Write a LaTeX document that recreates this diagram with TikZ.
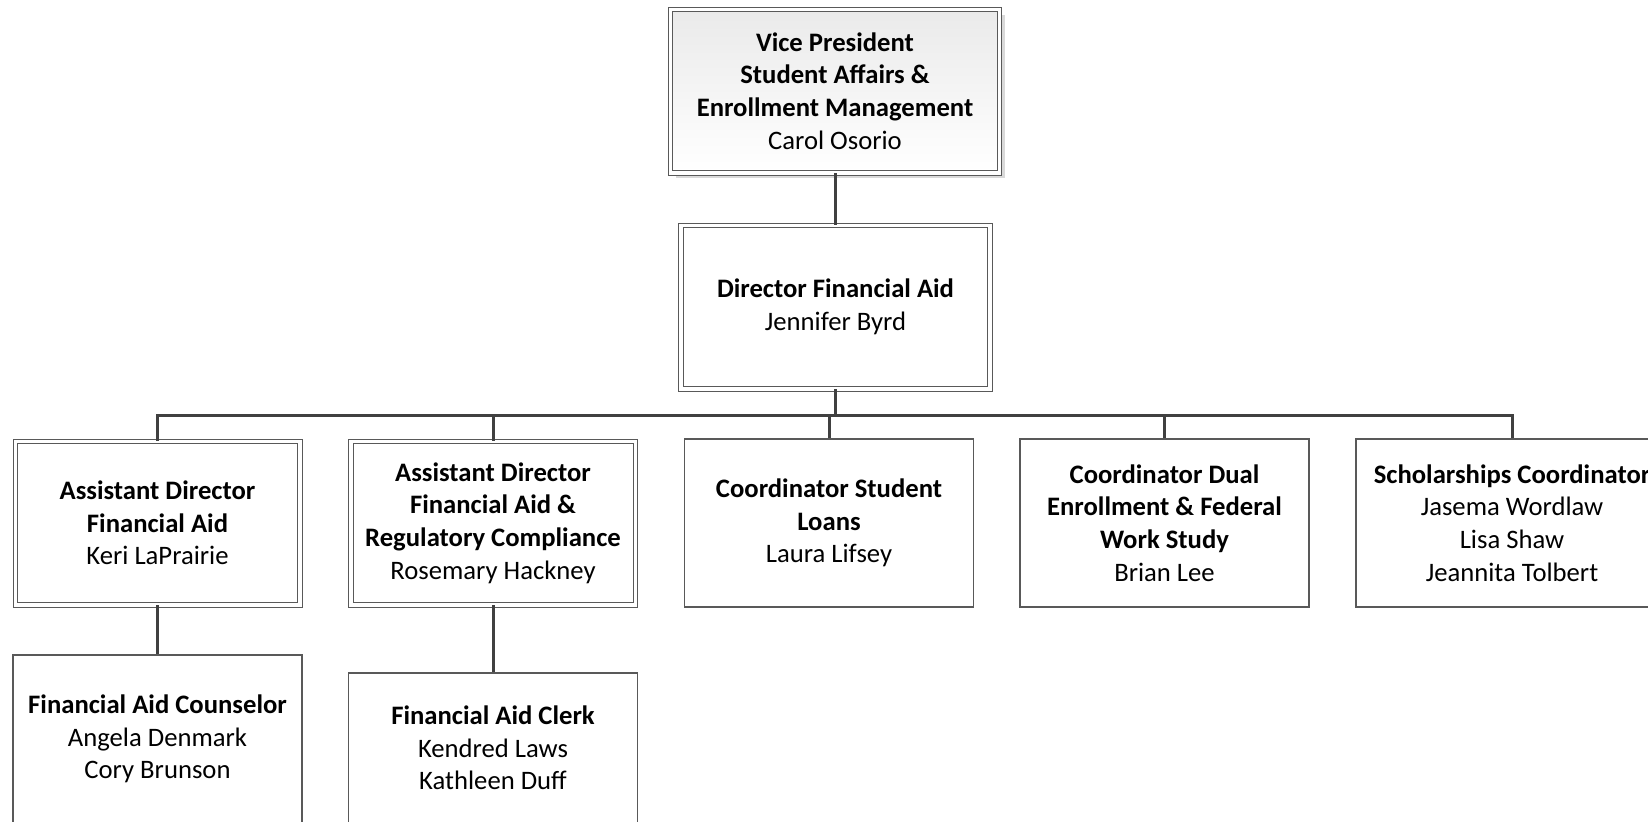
\documentclass[tikz,border=0pt]{standalone}
\usepackage{fontspec}
\setmainfont{Carlito}
\usetikzlibrary{shadows}
\definecolor{boxline}{HTML}{595959}
\definecolor{conn}{HTML}{404040}
\definecolor{vptop}{HTML}{EAEAEA}
\definecolor{shadowc}{HTML}{D9D9D9}
\begin{document}
\begin{tikzpicture}[x=0.75pt,y=-0.75pt,
  every node/.style={font=\fontsize{20}{24.4}\selectfont, align=center, inner sep=0pt, text=black},
  singlebox/.style={draw=boxline, line width=0.8pt, fill=white, minimum width=216.75pt, minimum height=126pt},
  doublebox/.style={draw=boxline, line width=0.75pt, double=white, double distance=2.625pt, fill=white, minimum width=213.375pt, minimum height=122.625pt},
  conn/.style={draw=conn, line width=2.25pt, line join=miter}]
\useasboundingbox (0,0) rectangle (1648,821);

\node[doublebox, minimum width=247.1pt, top color=vptop, bottom color=white,
      drop shadow={shadow xshift=4.2pt, shadow yshift=-4.2pt, fill=shadowc, opacity=1}]
  (vp) at (835,91) {\textbf{Vice President}\\\textbf{Student Affairs \&}\\\textbf{Enrollment Management}\\Carol Osorio};

\node[doublebox, minimum width=231.4pt] (dir) at (835.5,307) {\textbf{Director Financial Aid}\\Jennifer Byrd};

\node[doublebox] (ad1) at (157.5,523) {\textbf{Assistant Director}\\\textbf{Financial Aid}\\Keri LaPrairie};
\node[doublebox] (ad2) at (493,523) {\textbf{Assistant Director}\\\textbf{Financial Aid \&}\\\textbf{Regulatory Compliance}\\Rosemary Hackney};
\node[singlebox] (csl) at (829,523) {\textbf{Coordinator Student}\\\textbf{Loans}\\Laura Lifsey};
\node[singlebox] (cde) at (1164.5,523) {\textbf{Coordinator Dual}\\\textbf{Enrollment \& Federal}\\\textbf{Work Study}\\Brian Lee};
\node[singlebox, minimum width=234pt] (sc) at (1512,523) {\textbf{Scholarships Coordinator}\\Jasema Wordlaw\\Lisa Shaw\\Jeannita Tolbert};

\node[singlebox] (cou) at (157.5,739) {\textbf{Financial Aid Counselor}\\Angela Denmark\\Cory Brunson};
\node[singlebox, minimum height=112.5pt] (clerk) at (493,748) {\textbf{Financial Aid Clerk}\\Kendred Laws\\Kathleen Duff};

\coordinate (bary) at (0,415.5);

\draw[conn] (vp.south) -- (vp.south |- dir.north);
\draw[conn] (dir.south) -- (dir.south |- bary);
\draw[conn] (ad1.north) |- (sc.north |- bary) -- (sc.north);
\draw[conn] (ad2.north) -- (ad2.north |- bary);
\draw[conn] (csl.north) -- (csl.north |- bary);
\draw[conn] (cde.north) -- (cde.north |- bary);
\draw[conn] (ad1.south) -- (cou.north);
\draw[conn] (ad2.south) -- (clerk.north);
\end{tikzpicture}
\end{document}
